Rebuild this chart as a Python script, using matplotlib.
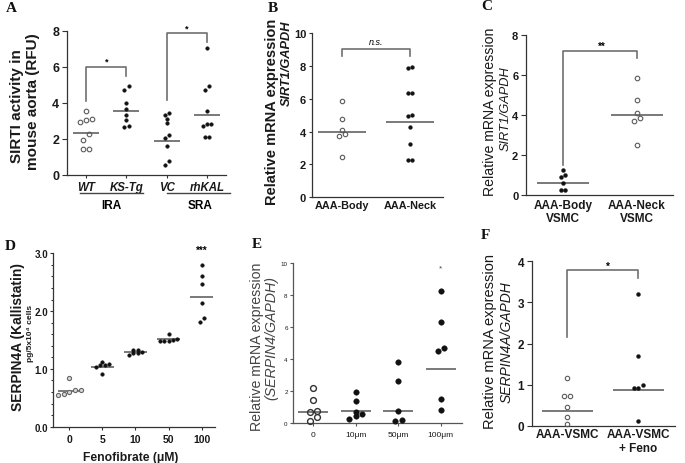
import numpy as np
import matplotlib
matplotlib.use('Agg')
import matplotlib.pyplot as plt
from matplotlib.ticker import MultipleLocator
from matplotlib.transforms import blended_transform_factory

plt.rcParams['font.family'] = ['Liberation Sans', 'DejaVu Sans']

# ---------------- data ----------------
# Panel A: SIRT1 activity
a_groups = ['WT', 'KS-Tg', 'VC', 'rhKAL']
a_wt = [3.54, 3.09, 3.06, 2.91, 2.24, 1.94, 1.43, 1.43]
a_kstg = [4.91, 4.72, 3.98, 3.65, 3.33, 3.06, 2.72, 2.67]
a_vc = [3.44, 3.33, 3.09, 2.85, 2.20, 2.06, 1.61, 0.78, 0.56]
a_rhkal = [7.02, 4.94, 4.72, 3.54, 2.81, 2.80, 2.69, 2.11, 2.11]
a_centre = [2.33, 3.54, 1.87, 3.33]
a_yticks = [0, 2, 4, 6, 8]

# Panel B: SIRT1 mRNA, tissue
b_groups = ['AAA-Body', 'AAA-Neck']
b_body = [5.86, 4.75, 4.10, 3.85, 3.75, 2.47]
b_neck = [7.95, 7.85, 6.35, 6.35, 5.00, 4.95, 4.25, 3.25, 2.25, 2.25]
b_centre = [4.0, 4.6]
b_yticks = [0, 2, 4, 6, 8, 10]

# Panel C: SIRT1 mRNA, VSMC
c_groups = ['AAA-Body\nVSMC', 'AAA-Neck\nVSMC']
c_body = [1.27, 1.02, 0.88, 0.58, 0.27, 0.27]
c_neck = [5.85, 4.75, 4.08, 3.83, 3.72, 2.50]
c_centre = [0.58, 4.0]
c_yticks = [0, 2, 4, 6, 8]

# Panel D: SERPIN4A protein vs fenofibrate
d_groups = ['0', '5', '10', '50', '100']
d_0 = [0.85, 0.63, 0.63, 0.60, 0.57, 0.55]
d_5 = [1.12, 1.09, 1.06, 1.06, 1.04, 0.91]
d_10 = [1.33, 1.32, 1.30, 1.28, 1.27, 1.24]
d_50 = [1.60, 1.52, 1.50, 1.49, 1.48, 1.48]
d_100 = [2.80, 2.60, 2.47, 2.14, 1.88, 1.82]
d_centre = [0.62, 1.04, 1.30, 1.51, 2.25]
d_yticks = [0.0, 1.0, 2.0, 3.0]

# Panel E: SERPIN4 mRNA vs fenofibrate
e_groups = ['0', '10\u03bcm', '50\u03bcm', '100\u03bcm']
e_0 = [2.20, 1.48, 0.79, 0.69, 0.42, 0.13]
e_10 = [1.98, 1.42, 0.73, 0.56, 0.48, 0.27]
e_50 = [3.85, 2.67, 0.77, 0.23, 0.15]
e_100 = [8.27, 6.35, 4.69, 4.54, 1.52, 0.85]
e_centre = [0.70, 0.75, 0.75, 3.40]
e_yticks = [0, 2, 4, 6, 8, 10]

# Panel F: SERPIN4A mRNA in VSMC +/- fenofibrate
f_groups = ['AAA-VSMC', 'AAA-VSMC\n+ Feno']
f_vsmc = [1.16, 0.73, 0.73, 0.46, 0.22, 0.03]
f_feno = [3.20, 1.70, 0.99, 0.91, 0.91, 0.11]
f_centre = [0.36, 0.88]
f_yticks = [0, 1, 2, 3, 4]

# ---------------- figure ----------------
W, H = 685, 464
fig = plt.figure(figsize=(W / 100, H / 100), dpi=100)
SPINE = '#333333'
DOT = '#111111'
OPEN = '#5a5a5a'
CLINE = '#555555'


def px(x, y):
    return x / W, 1 - y / H


def make_ax(left, right, top, bottom, xlim, ylim, color=SPINE):
    ax = fig.add_axes([left / W, 1 - bottom / H, (right - left) / W, (bottom - top) / H])
    ax.set_xlim(*xlim)
    ax.set_ylim(*ylim)
    for s in ('top', 'right'):
        ax.spines[s].set_visible(False)
    for s in ('left', 'bottom'):
        ax.spines[s].set_color(color)
        ax.spines[s].set_linewidth(0.9)
    ax.patch.set_alpha(0)
    ax.tick_params(colors=color, width=0.8, labelcolor='#1a1a1a')
    return ax


def swarm_offsets(ax, vals, diam):
    pos = ax.get_position()
    ylo, yhi = ax.get_ylim()
    xlo, xhi = ax.get_xlim()
    sy = pos.height * H / (yhi - ylo)
    sx = pos.width * W / (xhi - xlo)
    vals = np.asarray(vals, float)
    order = np.argsort(vals)
    rows = []
    for i in order:
        if rows and (vals[i] - vals[rows[-1][0]]) * sy < diam:
            rows[-1].append(i)
        else:
            rows.append([i])
    offs = np.zeros(len(vals))
    for r in rows:
        n = len(r)
        for k, i in enumerate(r):
            offs[i] = (k - (n - 1) / 2) * diam * 1.05 / sx
    return offs


def dots(ax, xi, vals, filled=True, ms=2.7, ec=OPEN, fc='none', mew=0.8):
    vals = np.asarray(vals, float)
    diam = ms / 0.72 + (0.5 if filled else 1.2)
    x = xi + swarm_offsets(ax, vals, diam)
    if filled:
        ax.plot(x, vals, 'o', ms=ms, mfc=DOT, mec=DOT, mew=0.3, ls='none', clip_on=False, zorder=3)
    else:
        ax.plot(x, vals, 'o', ms=ms, mfc=fc, mec=ec, mew=mew, ls='none', clip_on=False, zorder=3)


def centre_lines(ax, values, hw, lw=1.1):
    for i, v in enumerate(values):
        ax.plot([i - hw, i + hw], [v, v], color=CLINE, lw=lw, solid_capstyle='butt', zorder=2)


def bracket(ax, x0, x1, ytop, yl, yr, lw=1.2, color='#707070'):
    ax.plot([x0, x0, x1, x1], [yl, ytop, ytop, yr], color=color, lw=lw, clip_on=False, zorder=1)


def ftext(x, y, s, **kw):
    fx, fy = px(x, y)
    fig.text(fx, fy, s, **kw)


def ylab(x, y, s, size, weight='bold', style='normal', color='#1a1a1a'):
    ftext(x, y, s, rotation=90, ha='center', va='center', fontsize=size,
          fontweight=weight, fontstyle=style, color=color)


def letter(x, y, s):
    ftext(x, y, s, ha='center', va='center', fontsize=11, fontweight='bold',
          family='Liberation Serif', color='#111111')


# ================= Panel A =================
axA = make_ax(66.7, 226, 31.7, 175.7, (-0.48, 3.47), (0, 8))
axA.set_yticks(a_yticks)
axA.set_yticklabels([str(t) for t in a_yticks], fontsize=9, fontweight='bold')
axA.set_xticks(range(len(a_groups)))
axA.set_xticklabels(a_groups, fontsize=8.3, fontweight='bold', fontstyle='italic')
axA.tick_params(axis='y', length=3.5, pad=2)
axA.tick_params(axis='x', length=2, pad=2.5)
dots(axA, 0, a_wt, filled=False, ms=3.3)
dots(axA, 1, a_kstg, ms=2.6)
dots(axA, 2, a_vc, ms=2.6)
dots(axA, 3, a_rhkal, ms=2.6)
centre_lines(axA, a_centre, 0.32)
bracket(axA, 0, 1, 5.96, 4.07, 5.46)
bracket(axA, 2, 3, 7.85, 4.15, 7.35)
axA.text(0.51, 6.3, '*', ha='center', va='center', fontsize=6.5, fontweight='bold')
axA.text(2.5, 8.13, '*', ha='center', va='center', fontsize=6.5, fontweight='bold', clip_on=False)
trA = blended_transform_factory(axA.transData, axA.transAxes)
axA.plot([-0.15, 1.42], [-0.127, -0.127], color='#444444', lw=1.0, transform=trA, clip_on=False)
axA.plot([2.0, 3.57], [-0.127, -0.127], color='#444444', lw=1.0, transform=trA, clip_on=False)
axA.text(0.63, -0.21, 'IRA', transform=trA, ha='center', va='center', fontsize=8.5, fontweight='bold')
axA.text(2.83, -0.21, 'SRA', transform=trA, ha='center', va='center', fontsize=8.5, fontweight='bold')
ylab(17.3, 106, 'SIRTI activity in', 11)
ylab(33.3, 102, 'mouse aorta (RFU)', 11)
letter(11, 8, 'A')

# ================= Panel B =================
axB = make_ax(311.7, 443, 34, 198.3, (-0.44, 1.48), (0, 10))
axB.set_yticks(b_yticks)
axB.set_yticklabels([str(t) for t in b_yticks], fontsize=8, fontweight='bold')
axB.set_xticks(range(len(b_groups)))
axB.set_xticklabels(b_groups, fontsize=7.8, fontweight='bold')
axB.tick_params(axis='y', length=2.5, pad=1.5)
axB.tick_params(axis='x', length=0, pad=2)
dots(axB, 0, b_body, filled=False, ms=3.2)
dots(axB, 1, b_neck, ms=2.7)
centre_lines(axB, b_centre, 0.35)
bracket(axB, 0, 1, 9.0, 8.6, 8.6)
axB.text(0.5, 9.5, 'n.s.', ha='center', va='center', fontsize=6.5, fontstyle='italic')
ylab(271.7, 112, 'Relative mRNA expression', 10.5)
ylab(287, 63, 'SIRT1/GAPDH', 9.2, style='italic')
letter(273, 8, 'B')

# ================= Panel C =================
axC = make_ax(526, 673, 36, 196, (-0.5, 1.49), (0, 8))
axC.set_yticks(c_yticks)
axC.set_yticklabels([str(t) for t in c_yticks], fontsize=8, fontweight='bold')
axC.set_xticks(range(len(c_groups)))
axC.set_xticklabels(c_groups, fontsize=8.5, fontweight='bold', linespacing=1.05)
axC.tick_params(axis='y', length=3.5, pad=2)
axC.tick_params(axis='x', length=0, pad=3)
dots(axC, 0, c_body, ms=2.8)
dots(axC, 1, c_neck, filled=False, ms=3.3)
centre_lines(axC, c_centre, 0.35)
bracket(axC, 0, 1, 7.18, 1.52, 6.83)
axC.text(0.53, 7.47, '**', ha='center', va='center', fontsize=7, fontweight='bold')
ylab(490, 112, 'Relative mRNA expression', 10.2, weight='normal')
ylab(506, 109, 'SIRT1/GAPDH', 9.2, weight='normal', style='italic')
letter(487, 7, 'C')

# ================= Panel D =================
axD = make_ax(53, 215, 254.3, 427.7, (-0.49, 4.4), (0, 3))
axD.set_yticks(d_yticks)
axD.set_yticklabels(['%.1f' % t for t in d_yticks], fontsize=7, fontweight='bold')
axD.yaxis.set_minor_locator(MultipleLocator(0.2))
axD.set_xticks(range(len(d_groups)))
axD.set_xticklabels(d_groups, fontsize=7.5, fontweight='bold')
axD.tick_params(axis='y', which='major', length=2.5, pad=1)
axD.tick_params(axis='y', which='minor', length=1.6, width=0.6)
axD.tick_params(axis='x', length=2.5, pad=2.5)
dots(axD, 0, d_0, filled=False, ms=3.0, fc='#d8d8d8', ec='#666666')
dots(axD, 1, d_5, ms=2.6)
dots(axD, 2, d_10, ms=2.6)
dots(axD, 3, d_50, ms=2.6)
dots(axD, 4, d_100, ms=2.6)
centre_lines(axD, d_centre, 0.35)
axD.text(4, 3.06, '***', ha='center', va='center', fontsize=7, fontweight='bold', clip_on=False)
ylab(18.3, 337.5, 'SERPIN4A (Kallistatin)', 10)
ylab(30, 333, 'pg/5x10\u2074 cells', 6.0)
ftext(131, 458, 'Fenofibrate (\u03bcM)', ha='center', va='center', fontsize=8.7, fontweight='bold',
      color='#1a1a1a')
letter(10, 247, 'D')

# ================= Panel E =================
axE = make_ax(293.3, 461.7, 264.3, 424.3, (-0.47, 3.49), (0, 10), color='#555555')
axE.set_yticks(e_yticks)
axE.set_yticklabels([str(t) for t in e_yticks], fontsize=4.5)
axE.set_xticks(range(len(e_groups)))
axE.set_xticklabels(e_groups, fontsize=6)
axE.tick_params(axis='y', length=2.5, pad=1.5)
axE.tick_params(axis='x', length=2.5, pad=3)
dots(axE, 0, e_0, filled=False, ms=4.2, ec='#333333', mew=1.0)
dots(axE, 1, e_10, ms=4.0)
dots(axE, 2, e_50, ms=4.0)
dots(axE, 3, e_100, ms=4.0)
centre_lines(axE, e_centre, 0.35)
axE.text(3, 9.69, '*', ha='center', va='center', fontsize=6, color='#444444')
ylab(256.7, 347, 'Relative mRNA expression', 10.2, weight='normal', color='#444444')
ylab(271.7, 338, '(SERPIN4/GAPDH)', 10.2, weight='normal', style='italic', color='#444444')
letter(257, 245, 'E')

# ================= Panel F =================
axF = make_ax(531.7, 675, 262.3, 426.7, (-0.5, 1.52), (0, 4))
axF.set_yticks(f_yticks)
axF.set_yticklabels([str(t) for t in f_yticks], fontsize=8.5, fontweight='bold')
axF.set_xticks(range(len(f_groups)))
axF.set_xticklabels(f_groups, fontsize=8.5, fontweight='bold', linespacing=1.15)
axF.tick_params(axis='y', length=3.5, pad=2)
axF.tick_params(axis='x', length=0, pad=2)
dots(axF, 0, f_vsmc, filled=False, ms=3.2)
dots(axF, 1, f_feno, ms=2.8)
centre_lines(axF, f_centre, 0.36)
bracket(axF, 0, 1, 3.79, 2.15, 3.6)
axF.text(0.58, 3.9, '*', ha='center', va='center', fontsize=7, fontweight='bold')
ylab(490, 342, 'Relative mRNA expression', 10.5, weight='normal')
ylab(506.7, 342, 'SERPIN4A/GAPDH', 10, weight='normal', style='italic')
letter(485, 236, 'F')

fig.savefig('out.png', dpi=100)
